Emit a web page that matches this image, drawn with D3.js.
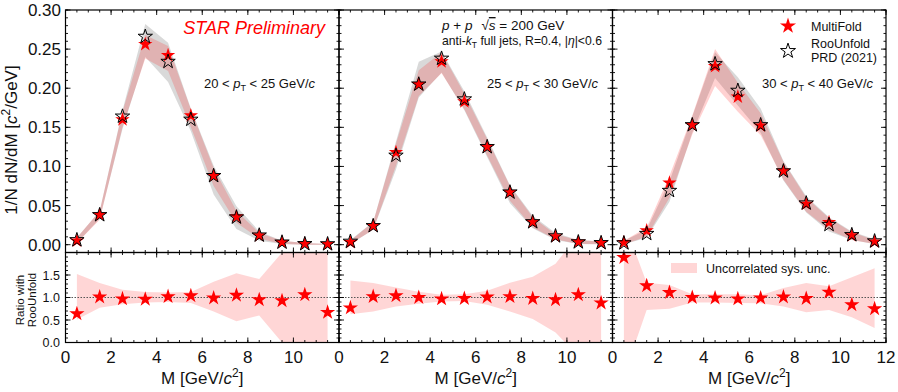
<!DOCTYPE html>
<html>
<head>
<meta charset="utf-8">
<script src="https://cdn.jsdelivr.net/npm/d3@7"></script>
<style>
body { margin: 0; background: #fff; }
text { font-family: "Liberation Sans", Arial, sans-serif; fill: #111; }
</style>
</head>
<body>
<svg id="chart" width="898" height="392"></svg>
<script>
// Data
const massBins = [0.5, 1.5, 2.5, 3.5, 4.5, 5.5, 6.5, 7.5, 8.5, 9.5, 10.5, 11.5];
const ptRanges = [["20", "25"], ["25", "30"], ["30", "40"]];
const xTickLabels = [[0, 2, 4, 6, 8, 10], [0, 2, 4, 6, 8, 10], [0, 2, 4, 6, 8, 10, 12]];

// 20 < pT < 25
const mfA = [0.005, 0.038, 0.160, 0.256, 0.242, 0.165, 0.088, 0.036, 0.0115, 0.003, 0.0012, 0.0006];
const rooA = [0.006, 0.038, 0.164, 0.266, 0.234, 0.160, 0.088, 0.035, 0.012, 0.003, 0.001, 0.0008];
const grayLoA = [0.002, 0.033, 0.148, 0.240, 0.208, 0.145, 0.064, 0.020, 0.005, 0.001, 0, 0];
const grayHiA = [0.009, 0.043, 0.172, 0.282, 0.258, 0.174, 0.101, 0.049, 0.017, 0.005, 0.002, 0.001];
const redLoA = [0.002, 0.032, 0.150, 0.238, 0.222, 0.150, 0.075, 0.028, 0.008, 0.001, 0, 0];
const redHiA = [0.009, 0.043, 0.170, 0.268, 0.254, 0.173, 0.098, 0.043, 0.015, 0.005, 0.002, 0.001];
const ratioA = [0.64, 1.01, 0.97, 0.96, 1.02, 1.04, 0.99, 1.05, 0.95, 0.93, 1.06, 0.67];
const ratioLoA = [0.51, 0.77, 0.85, 0.89, 0.90, 0.88, 0.69, 0.47, 0.60, 0.0, -0.6, -0.8];
const ratioHiA = [1.52, 1.32, 1.17, 1.12, 1.11, 1.12, 1.35, 1.54, 1.41, 2.0, 2.6, 2.8];

// 25 < pT < 30
const mfB = [0.003, 0.024, 0.118, 0.205, 0.234, 0.183, 0.125, 0.067, 0.029, 0.0105, 0.0035, 0.002];
const rooB = [0.004, 0.024, 0.114, 0.205, 0.238, 0.186, 0.125, 0.067, 0.029, 0.011, 0.0033, 0.0023];
const grayLoB = [0.001, 0.019, 0.096, 0.188, 0.220, 0.172, 0.112, 0.053, 0.021, 0.006, 0.001, 0.0005];
const grayHiB = [0.006, 0.029, 0.132, 0.234, 0.247, 0.196, 0.137, 0.076, 0.037, 0.015, 0.006, 0.004];
const redLoB = [0.001, 0.019, 0.101, 0.190, 0.219, 0.173, 0.114, 0.056, 0.022, 0.007, 0.001, 0.0005];
const redHiB = [0.005, 0.029, 0.129, 0.223, 0.246, 0.193, 0.135, 0.075, 0.035, 0.013, 0.006, 0.004];
const ratioB = [0.77, 1.02, 1.04, 1.0, 0.97, 0.98, 1.01, 1.02, 0.98, 0.95, 1.06, 0.88];
const ratioLoB = [0.63, 0.69, 0.80, 0.86, 0.91, 0.92, 0.84, 0.69, 0.52, 0.22, -0.3, -0.6];
const ratioHiB = [1.38, 1.32, 1.22, 1.13, 1.06, 1.07, 1.15, 1.33, 1.46, 1.75, 2.4, 2.6];

// 30 < pT < 40
const mfC = [0.003, 0.018, 0.079, 0.153, 0.228, 0.189, 0.152, 0.0945, 0.052, 0.0285, 0.0115, 0.0035];
const rooC = [0.002, 0.014, 0.069, 0.153, 0.231, 0.197, 0.153, 0.094, 0.053, 0.0255, 0.0125, 0.0045];
const grayLoC = [0.0005, 0.009, 0.055, 0.143, 0.213, 0.178, 0.143, 0.082, 0.041, 0.017, 0.006, 0.001];
const grayHiC = [0.005, 0.019, 0.081, 0.164, 0.246, 0.214, 0.174, 0.107, 0.062, 0.035, 0.017, 0.007];
const redLoC = [0.0005, 0.010, 0.060, 0.141, 0.203, 0.170, 0.140, 0.083, 0.042, 0.019, 0.006, 0.001];
const redHiC = [0.005, 0.022, 0.088, 0.165, 0.250, 0.207, 0.168, 0.106, 0.060, 0.034, 0.016, 0.006];
const ratioC = [1.89, 1.26, 1.11, 1.0, 0.99, 0.97, 0.99, 1.01, 0.98, 1.12, 0.84, 0.75];
const ratioLoC = [-0.74, 0.72, 0.75, 0.89, 0.89, 0.88, 0.87, 0.80, 0.67, 0.72, 0.56, 0.32];
const ratioHiC = [2.68, 1.33, 1.28, 1.07, 1.07, 1.07, 1.05, 1.21, 1.32, 1.25, 1.45, 1.65];

const panels = [
    { mf: mfA, roo: rooA, gLo: grayLoA, gHi: grayHiA, rLo: redLoA, rHi: redHiA, ratio: ratioA, rbLo: ratioLoA, rbHi: ratioHiA, ptX: 315 },
    { mf: mfB, roo: rooB, gLo: grayLoB, gHi: grayHiB, rLo: redLoB, rHi: redHiB, ratio: ratioB, rbLo: ratioLoB, rbHi: ratioHiB, ptX: 598 },
    { mf: mfC, roo: rooC, gLo: grayLoC, gHi: grayHiC, rLo: redLoC, rHi: redHiC, ratio: ratioC, rbLo: ratioLoC, rbHi: ratioHiC, ptX: 873 }
];

// Layout
const left = 65.5, panelW = 273.5;
const topY = 10, splitY = 252.5, bottomY = 342.5;

const svg = d3.select('#chart');
const yMain = d3.scaleLinear().domain([-0.01, 0.30]).range([splitY, topY]);
const yRatio = d3.scaleLinear().domain([0, 2]).range([bottomY, splitY]);

const grayFill = 'rgba(128,128,128,0.3)';
const redFill = 'rgba(255,0,0,0.18)';
const pinkFill = 'rgba(255,0,0,0.16)';
const star = d3.symbol(d3.symbolStar, 64);

function range(a, b, step) {
    return d3.range(Math.round((b - a) / step) + 1).map(i => +(a + i * step).toFixed(4));
}

// inward ticks on all four sides
function drawTicks(g, x, y, xMajor, xMinor, yMajor, yMinor) {
    const [x0, x1] = x.range();
    const [y0, y1] = y.range(); // y0 bottom, y1 top
    const seg = (ax, ay, bx, by) => g.append('line')
        .attr('x1', ax).attr('y1', ay).attr('x2', bx).attr('y2', by)
        .attr('stroke', '#000').attr('stroke-width', 0.9);
    xMajor.forEach(v => { const px = x(v); seg(px, y0, px, y0 - 5); seg(px, y1, px, y1 + 5); });
    xMinor.forEach(v => { const px = x(v); seg(px, y0, px, y0 - 2.5); seg(px, y1, px, y1 + 2.5); });
    yMajor.forEach(v => { const py = y(v); seg(x0, py, x0 + 5, py); seg(x1, py, x1 - 5, py); });
    yMinor.forEach(v => { const py = y(v); seg(x0, py, x0 + 2.5, py); seg(x1, py, x1 - 2.5, py); });
}

panels.forEach((p, i) => {
    const x0 = left + i * panelW;
    const x = d3.scaleLinear().domain([0, 12]).range([x0, x0 + panelW]);
    const g = svg.append('g');

    // clip paths
    const defs = svg.append('defs');
    defs.append('clipPath').attr('id', 'clipTop' + i).append('rect')
        .attr('x', x0).attr('y', topY).attr('width', panelW).attr('height', splitY - topY);
    defs.append('clipPath').attr('id', 'clipBot' + i).append('rect')
        .attr('x', x0).attr('y', splitY).attr('width', panelW).attr('height', bottomY - splitY);

    // main panel bands
    const bandTop = (lo, hi) => d3.area()
        .x((d, k) => x(massBins[k]))
        .y0((d, k) => yMain(lo[k]))
        .y1((d, k) => yMain(hi[k]));
    const topG = g.append('g').attr('clip-path', `url(#clipTop${i})`);
    topG.append('path').datum(massBins).attr('d', bandTop(p.gLo, p.gHi)).attr('fill', grayFill);
    topG.append('path').datum(massBins).attr('d', bandTop(p.rLo, p.rHi)).attr('fill', redFill);

    topG.selectAll('.mf').data(p.mf).join('path')
        .attr('class', 'mf')
        .attr('transform', (d, k) => `translate(${x(massBins[k])},${yMain(d)})`)
        .attr('d', star).attr('fill', '#ff0000');
    topG.selectAll('.roo').data(p.roo).join('path')
        .attr('class', 'roo')
        .attr('transform', (d, k) => `translate(${x(massBins[k])},${yMain(d)})`)
        .attr('d', star).attr('fill', 'none').attr('stroke', '#000').attr('stroke-width', 1);

    // ratio panel
    const botG = g.append('g').attr('clip-path', `url(#clipBot${i})`);
    const bandBot = d3.area()
        .x((d, k) => x(massBins[k]))
        .y0((d, k) => yRatio(p.rbLo[k]))
        .y1((d, k) => yRatio(p.rbHi[k]));
    botG.append('path').datum(massBins).attr('d', bandBot).attr('fill', pinkFill);
    botG.append('line')
        .attr('x1', x(0)).attr('x2', x(12)).attr('y1', yRatio(1)).attr('y2', yRatio(1))
        .attr('stroke', '#555').attr('stroke-width', 1.2).attr('stroke-dasharray', '1.5,1.5');
    botG.selectAll('.rs').data(p.ratio).join('path')
        .attr('class', 'rs')
        .attr('transform', (d, k) => `translate(${x(massBins[k])},${yRatio(d)})`)
        .attr('d', d3.symbol(d3.symbolStar, 72)).attr('fill', '#ff0000');

    // ticks
    drawTicks(g, x, yMain, range(0, 12, 2), range(0, 12, 0.5), range(0, 0.30, 0.05), range(-0.01, 0.30, 0.01));
    drawTicks(g, x, yRatio, range(0, 12, 2), range(0, 12, 0.5), range(0, 2, 0.5), range(0, 2, 0.1));

    // frames
    g.append('rect').attr('x', x0).attr('y', topY).attr('width', panelW).attr('height', splitY - topY)
        .attr('fill', 'none').attr('stroke', '#000').attr('stroke-width', 1.2);
    g.append('rect').attr('x', x0).attr('y', splitY).attr('width', panelW).attr('height', bottomY - splitY)
        .attr('fill', 'none').attr('stroke', '#000').attr('stroke-width', 1.2);

    // x tick labels
    g.selectAll('.xl').data(xTickLabels[i]).join('text')
        .attr('x', d => x(d)).attr('y', 363)
        .attr('text-anchor', 'middle').attr('font-size', 17)
        .text(d => d);

    // x axis label
    g.append('text')
        .attr('x', x(6)).attr('y', 384)
        .attr('text-anchor', 'middle').attr('font-size', 17)
        .html('M [GeV/<tspan font-style="italic">c</tspan><tspan dy="-7" font-size="12">2</tspan><tspan dy="7">]</tspan>');

    // pT range label
    g.append('text')
        .attr('x', p.ptX).attr('y', 88)
        .attr('text-anchor', 'end').attr('font-size', 13)
        .html(`${ptRanges[i][0]} &lt; <tspan font-style="italic">p</tspan><tspan dy="3" font-size="9">T</tspan><tspan dy="-3"> &lt; ${ptRanges[i][1]} GeV/</tspan><tspan font-style="italic">c</tspan>`);
});

// y tick labels (left panel only)
svg.selectAll('.yl').data(range(0, 0.30, 0.05)).join('text')
    .attr('x', 61).attr('y', d => yMain(d) + 6)
    .attr('text-anchor', 'end').attr('font-size', 17)
    .text(d => d.toFixed(2));
svg.selectAll('.yr').data(range(0, 1.5, 0.5)).join('text')
    .attr('x', 60).attr('y', d => yRatio(d) + 4.5)
    .attr('text-anchor', 'end').attr('font-size', 12.5)
    .text(d => d.toFixed(1));

// y axis labels
svg.append('text')
    .attr('transform', 'translate(17,140) rotate(-90)')
    .attr('text-anchor', 'middle').attr('font-size', 17)
    .html('1/N dN/dM [<tspan font-style="italic">c</tspan><tspan dy="-7" font-size="12">2</tspan><tspan dy="7">/GeV]</tspan>');
svg.append('text')
    .attr('transform', 'translate(24,300) rotate(-90)')
    .attr('text-anchor', 'middle').attr('font-size', 11.5)
    .text('Ratio with');
svg.append('text')
    .attr('transform', 'translate(36,300) rotate(-90)')
    .attr('text-anchor', 'middle').attr('font-size', 11.5)
    .text('RooUnfold');

// annotations
svg.append('text')
    .attr('x', 325).attr('y', 34)
    .attr('text-anchor', 'end').attr('font-size', 18)
    .attr('font-style', 'italic').style('fill', '#ff0000')
    .text('STAR Preliminary');
svg.append('text')
    .attr('x', 442).attr('y', 30).attr('font-size', 13.5)
    .html('<tspan font-style="italic">p</tspan> + <tspan font-style="italic">p</tspan><tspan dx="9">√</tspan><tspan text-decoration="overline" font-style="italic">s</tspan> = 200 GeV');
svg.append('text')
    .attr('x', 442).attr('y', 45).attr('font-size', 12.2)
    .html('anti-<tspan font-style="italic">k</tspan><tspan dy="3" font-size="8.5">T</tspan><tspan dy="-3"> full jets, R=0.4, |</tspan><tspan font-style="italic">η</tspan>|&lt;0.6');

// legend (top right)
svg.append('path').attr('transform', 'translate(788,26)')
    .attr('d', d3.symbol(d3.symbolStar, 80)).attr('fill', '#ff0000');
svg.append('text').attr('x', 811).attr('y', 30.5).attr('font-size', 12.5).text('MultiFold');
svg.append('path').attr('transform', 'translate(788,51)')
    .attr('d', d3.symbol(d3.symbolStar, 70)).attr('fill', 'none').attr('stroke', '#000').attr('stroke-width', 1);
svg.append('text').attr('x', 811).attr('y', 47.5).attr('font-size', 12.5).text('RooUnfold');
svg.append('text').attr('x', 811).attr('y', 62).attr('font-size', 12.5).text('PRD (2021)');

// legend (ratio)
svg.append('rect').attr('x', 671).attr('y', 263).attr('width', 26).attr('height', 10)
    .attr('fill', pinkFill);
svg.append('text').attr('x', 706).attr('y', 272.5).attr('font-size', 12.5).text('Uncorrelated sys. unc.');
</script>
</body>
</html>
